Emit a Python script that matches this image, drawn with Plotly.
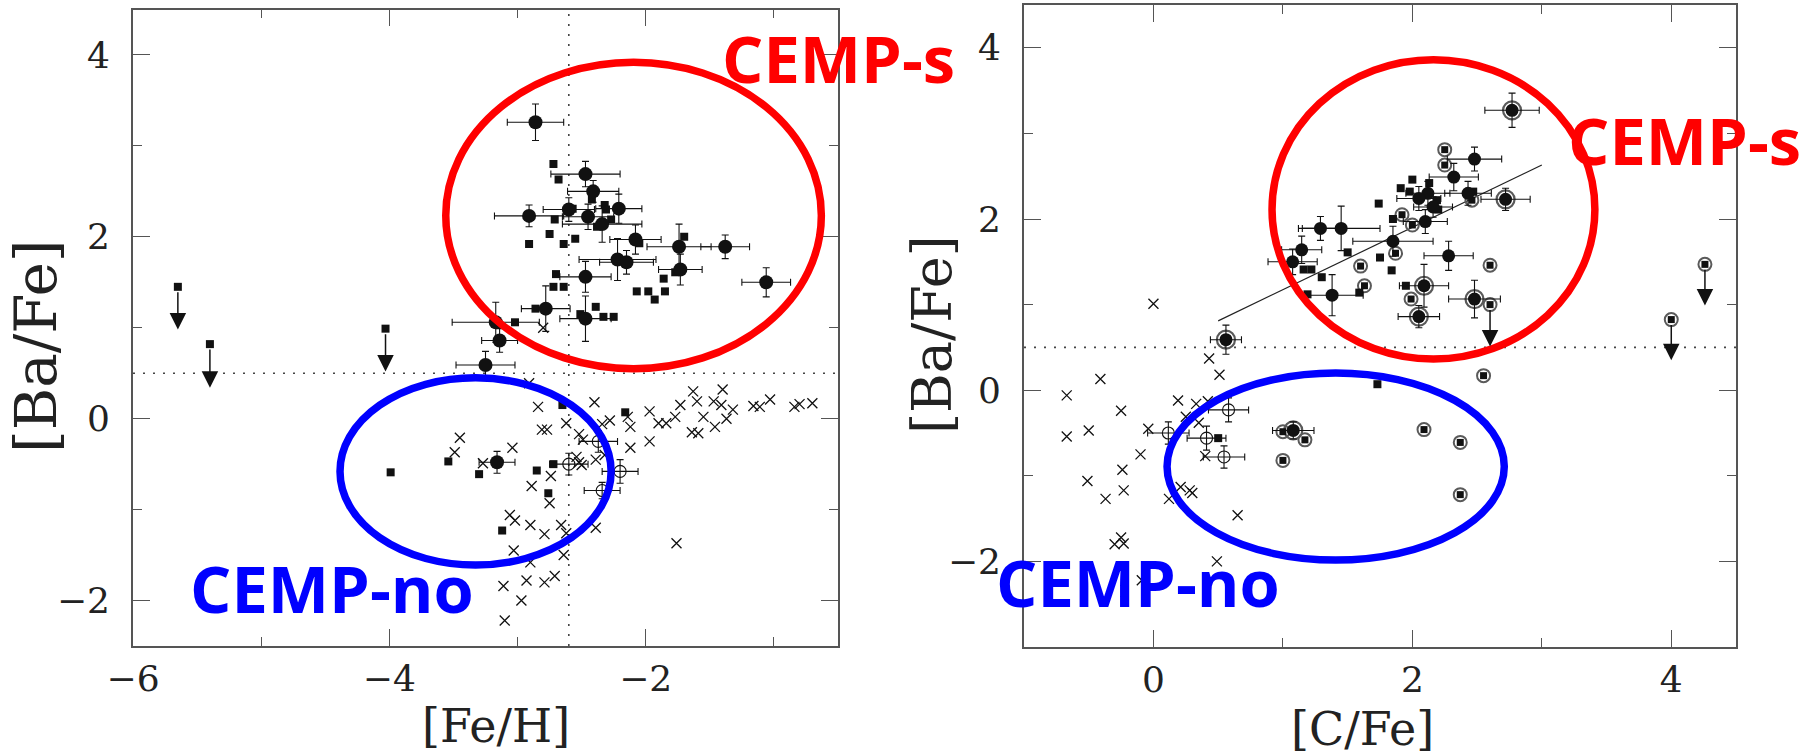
import plotly.graph_objects as go

# ---------------- LEFT PANEL : [Ba/Fe] vs [Fe/H] ----------------
L_circ_x = [-2.86, -2.47, -2.41, -2.91, -2.60, -2.45, -2.21, -2.34, -2.08, -1.74, -1.38,
            -2.22, -2.15, -1.73, -1.06, -2.47, -2.78, -2.47, -3.17, -3.14, -3.25, -3.16]
L_circ_y = [3.26, 2.69, 2.50, 2.23, 2.30, 2.22, 2.31, 2.14, 1.97, 1.89, 1.89,
            1.75, 1.72, 1.64, 1.50, 1.56, 1.21, 1.10, 1.06, 0.86, 0.59, -0.48]
L_circ_xerr = [0.22, 0.27, 0.20, 0.27, 0.20, 0.20, 0.18, 0.31, 0.20, 0.25, 0.19,
               0.30, 0.21, 0.17, 0.19, 0.20, 0.19, 0.20, 0.34, 0.14, 0.23, 0.14]
L_circ_yerr = [0.20, 0.14, 0.12, 0.12, 0.13, 0.14, 0.16, 0.20, 0.16, 0.25, 0.13,
               0.23, 0.13, 0.17, 0.16, 0.17, 0.25, 0.25, 0.22, 0.13, 0.15, 0.12]

L_sq_x = [-2.72, -2.68, -2.42, -2.32, -2.31, -2.27, -2.71, -2.75, -2.91, -2.64, -2.55,
          -2.38, -2.57, -1.70, -2.05, -2.70, -2.72, -2.64, -1.86, -1.77, -2.07, -1.98,
          -1.85, -1.93, -2.86, -2.39, -2.51, -2.33, -2.25, -3.02,
          -3.99, -3.54, -3.30, -2.85, -2.72, -2.76, -3.12, -2.65, -2.16]
L_sq_y = [2.80, 2.63, 2.41, 2.35, 2.30, 2.19, 2.19, 2.03, 1.92, 1.92, 1.98,
          2.11, 2.31, 2.00, 1.93, 1.59, 1.45, 1.45, 1.54, 1.61, 1.40, 1.40,
          1.40, 1.31, 1.21, 1.23, 1.15, 1.12, 1.12, 1.06,
          -0.59, -0.47, -0.61, -0.57, -0.50, -0.82, -1.23, 0.15, 0.07]

L_open_x = [-2.60, -2.37, -2.20, -2.34]
L_open_y = [-0.50, -0.25, -0.58, -0.79]
L_open_xerr = [0.15, 0.15, 0.14, 0.14]
L_open_yerr = [0.12, 0.12, 0.13, 0.09]

L_cross_x = [-3.45, -3.49, -3.27, -3.04, -2.84, -2.91, -2.81, -2.77, -2.62, -2.40,
             -2.52, -2.49, -2.54, -2.50, -2.39, -2.74, -2.89, -2.75, -2.34, -2.14,
             -2.12, -2.12, -1.97, -1.97, -1.90, -1.84, -1.77, -1.73, -1.63, -1.60,
             -1.64, -1.59, -1.55, -1.47, -1.46, -1.40, -1.41, -1.32, -1.37, -1.16,
             -1.11, -1.03, -0.84, -3.06, -3.02, -2.90, -2.79, -2.66, -2.62, -2.39,
             -3.03, -2.64, -2.90, -2.93, -2.79, -2.71, -3.11, -2.97, -3.10, -1.76,
             -0.80, -0.70, -2.80, -2.28, -2.52, -2.32]
L_cross_y = [-0.21, -0.37, -0.49, -0.32, 0.13, 0.39, -0.12, -0.12, -0.05, 0.18,
             -0.17, -0.23, -0.42, -0.51, -0.45, -0.63, -0.74, -0.93, -0.06, 0.02,
             -0.09, -0.32, 0.08, -0.25, -0.05, -0.05, 0.02, 0.15, 0.30, 0.19,
             -0.15, -0.16, 0.02, 0.19, -0.09, 0.32, 0.15, 0.10, 0.00, 0.14,
             0.13, 0.21, 0.13, -1.06, -1.12, -1.17, -1.27, -1.17, -1.26, -1.20,
             -1.45, -1.50, -1.58, -1.78, -1.80, -1.73, -1.84, -2.00, -2.22, -1.37,
             0.16, 0.17, 1.00, -0.02, -0.48, -0.40]

L_lim_x = [-5.65, -5.40, -4.03]
L_lim_y = [1.45, 0.82, 0.99]
L_lim_tip = [0.98, 0.34, 0.52]

L_vline = -2.6
H_LINE = 0.5

# ---------------- RIGHT PANEL : [Ba/Fe] vs [C/Fe] ----------------
R_circ_x = [2.77, 2.48, 2.32, 2.43, 2.72, 2.12, 2.05, 2.16, 2.10, 1.85, 1.29,
            1.45, 1.145, 1.075, 1.38, 2.28, 2.09, 2.48, 2.05, 0.56, 1.08]
R_circ_y = [3.27, 2.70, 2.49, 2.30, 2.23, 2.30, 2.24, 2.14, 1.97, 1.74, 1.89,
            1.89, 1.64, 1.50, 1.11, 1.57, 1.22, 1.065, 0.86, 0.59, -0.47]
R_circ_xerr = [0.21, 0.21, 0.19, 0.18, 0.19, 0.17, 0.17, 0.15, 0.17, 0.31, 0.17,
               0.30, 0.155, 0.19, 0.24, 0.19, 0.19, 0.20, 0.16, 0.12, 0.16]
R_circ_yerr = [0.20, 0.14, 0.16, 0.14, 0.13, 0.14, 0.14, 0.12, 0.14, 0.175, 0.14,
               0.26, 0.16, 0.15, 0.24, 0.17, 0.25, 0.22, 0.13, 0.17, 0.10]
R_circ_ring = [1, 0, 0, 0, 1, 0, 0, 0, 0, 0, 0,
               0, 0, 0, 0, 0, 1, 1, 1, 1, 1]

R_sq_x = [2.00, 1.91, 1.98, 2.13, 2.19, 2.20, 2.47, 1.74, 1.85, 1.50, 1.75,
          1.84, 1.16, 1.22, 1.30, 1.19, 1.59, 1.95, 1.73, 0.50]
R_sq_y = [2.46, 2.36, 2.32, 2.42, 2.22, 2.11, 2.32, 2.18, 2.00, 1.61, 1.55,
          1.40, 1.41, 1.41, 1.32, 1.12, 1.14, 1.22, 0.07, -0.56]

R_rsq_x = [2.25, 2.25, 1.92, 2.00, 1.60, 1.63, 1.99, 2.60, 2.55, 1.87, 2.46,
           1.00, 1.17, 1.00, 2.09, 2.37, 2.37]
R_rsq_y = [2.81, 2.63, 2.05, 1.93, 1.45, 1.22, 1.065, 1.46, 0.17, 1.60, 2.22,
           -0.485, -0.58, -0.82, -0.46, -0.61, -1.22]

R_open_x = [0.115, 0.41, 0.58, 0.545]
R_open_y = [-0.50, -0.56, -0.23, -0.78]
R_open_xerr = [0.16, 0.15, 0.155, 0.16]
R_open_yerr = [0.13, 0.14, 0.14, 0.13]

R_cross_x = [0.00, 0.43, 0.51, -0.41, -0.67, -0.25, -0.50, -0.67, -0.04, 0.19,
             0.33, 0.25, 0.35, 0.42, -0.10, -0.24, -0.51, -0.23, -0.37, 0.12,
             0.21, 0.28, 0.30, 0.40, 0.65, -0.30, -0.23, -0.25, 0.49, -0.09]
R_cross_y = [1.01, 0.37, 0.18, 0.13, -0.06, -0.24, -0.47, -0.54, -0.45, -0.12,
             -0.16, -0.31, -0.38, -0.13, -0.75, -0.93, -1.06, -1.17, -1.27, -1.27,
             -1.13, -1.17, -1.20, -0.77, -1.46, -1.80, -1.79, -1.72, -2.00, -2.22]

R_lim_x = [2.60, 4.00, 4.26]
R_lim_y = [1.00, 0.825, 1.47]
R_lim_tip = [0.51, 0.35, 0.99]

R_fit_x = [0.5, 3.0]
R_fit_y = [0.81, 2.63]

# ellipses (x0, x1, y0, y1) in data units
L_red_ell = (-3.56, -0.63, 0.55, 3.92)
L_blue_ell = (-4.385, -2.27, -1.61, 0.45)
R_red_ell = (0.916, 3.41, 0.364, 3.86)
R_blue_ell = (0.105, 2.71, -1.985, 0.201)

# ---------------- FIGURE ----------------
W, H = 1816, 755
fig = go.Figure()
BLACK = "#111111"
RING = "#5a5a5a"


def errs(arr):
    return dict(type="data", array=arr, visible=True, color=BLACK, thickness=1.1, width=3.5)


def add_panel(xa, ya, cx, cy, sx, sy, ox, oy, oxe, oye, ccx, ccy, cxe, cye, csize):
    fig.add_trace(go.Scatter(x=cx, y=cy, mode="markers", xaxis=xa, yaxis=ya,
                             marker=dict(symbol="x-thin", size=10, color=BLACK,
                                         line=dict(width=1.3, color=BLACK)),
                             showlegend=False, hoverinfo="skip"))
    fig.add_trace(go.Scatter(x=ox, y=oy, mode="markers", xaxis=xa, yaxis=ya,
                             error_x=errs(oxe), error_y=errs(oye),
                             marker=dict(symbol="circle-open", size=12, color=BLACK,
                                         line=dict(width=1.1, color=BLACK)),
                             showlegend=False, hoverinfo="skip"))
    fig.add_trace(go.Scatter(x=sx, y=sy, mode="markers", xaxis=xa, yaxis=ya,
                             marker=dict(symbol="square", size=8, color=BLACK),
                             showlegend=False, hoverinfo="skip"))
    fig.add_trace(go.Scatter(x=ccx, y=ccy, mode="markers", xaxis=xa, yaxis=ya,
                             error_x=errs(cxe), error_y=errs(cye),
                             marker=dict(symbol="circle", size=csize, color=BLACK),
                             showlegend=False, hoverinfo="skip"))


# left
add_panel("x", "y", L_cross_x, L_cross_y, L_sq_x, L_sq_y, L_open_x, L_open_y, L_open_xerr, L_open_yerr,
          L_circ_x, L_circ_y, L_circ_xerr, L_circ_yerr, 14)
fig.add_trace(go.Scatter(x=L_lim_x, y=L_lim_y, mode="markers", xaxis="x", yaxis="y",
                         marker=dict(symbol="square", size=8, color=BLACK), showlegend=False, hoverinfo="skip"))

# right
fig.add_trace(go.Scatter(x=R_fit_x, y=R_fit_y, mode="lines", xaxis="x2", yaxis="y2",
                         line=dict(color="#222", width=1.2), showlegend=False, hoverinfo="skip"))
ring_x = [x for x, r in zip(R_circ_x, R_circ_ring) if r]
ring_y = [y for y, r in zip(R_circ_y, R_circ_ring) if r]
fig.add_trace(go.Scatter(x=ring_x, y=ring_y, mode="markers", xaxis="x2", yaxis="y2",
                         marker=dict(symbol="circle-open", size=18, color=RING, line=dict(width=2.2)),
                         showlegend=False, hoverinfo="skip"))
fig.add_trace(go.Scatter(x=R_rsq_x + R_lim_x, y=R_rsq_y + R_lim_y, mode="markers", xaxis="x2", yaxis="y2",
                         marker=dict(symbol="circle-open", size=13, color=RING, line=dict(width=2.0)),
                         showlegend=False, hoverinfo="skip"))
fig.add_trace(go.Scatter(x=R_rsq_x + R_lim_x, y=R_rsq_y + R_lim_y, mode="markers", xaxis="x2", yaxis="y2",
                         marker=dict(symbol="square", size=7, color=BLACK), showlegend=False, hoverinfo="skip"))
add_panel("x2", "y2", R_cross_x, R_cross_y, R_sq_x, R_sq_y, R_open_x, R_open_y, R_open_xerr, R_open_yerr,
          R_circ_x, R_circ_y, R_circ_xerr, R_circ_yerr, 13)

# upper-limit arrows
annotations = []
for xs, ys, ts, xr, yr in [(L_lim_x, L_lim_y, L_lim_tip, "x", "y"), (R_lim_x, R_lim_y, R_lim_tip, "x2", "y2")]:
    for x, y, t in zip(xs, ys, ts):
        annotations.append(dict(x=x, y=t, ax=x, ay=y, xref=xr, yref=yr, axref=xr, ayref=yr,
                                text="", showarrow=True, arrowhead=2, arrowsize=2.2,
                                arrowwidth=1.5, arrowcolor=BLACK, standoff=0, startstandoff=4))

# shapes: dotted reference lines and ellipses
shapes = [
    dict(type="line", xref="x domain", yref="y", x0=0, x1=1, y0=H_LINE, y1=H_LINE,
         line=dict(color="#444", width=1.6, dash="2px,8px"), layer="below"),
    dict(type="line", xref="x", yref="y domain", x0=L_vline, x1=L_vline, y0=0, y1=1,
         line=dict(color="#444", width=1.6, dash="2px,8px"), layer="below"),
    dict(type="line", xref="x2 domain", yref="y2", x0=0, x1=1, y0=H_LINE, y1=H_LINE,
         line=dict(color="#444", width=1.6, dash="2px,8px"), layer="below"),
]
for (x0, x1, y0, y1), xr, yr, col in [(L_red_ell, "x", "y", "#ff0000"), (L_blue_ell, "x", "y", "#0000ff"),
                                      (R_red_ell, "x2", "y2", "#ff0000"), (R_blue_ell, "x2", "y2", "#0000ff")]:
    shapes.append(dict(type="circle", xref=xr, yref=yr, x0=x0, x1=x1, y0=y0, y1=y1,
                       line=dict(color=col, width=7.5)))

# text labels
SERIF = "DejaVu Serif"
def ptext(px, py, txt, size, color, family, angle=0):
    return dict(x=px / W, y=1 - py / H, xref="paper", yref="paper", text=txt, showarrow=False,
                xanchor="center", yanchor="middle", textangle=angle,
                font=dict(family=family, size=size, color=color))

annotations += [
    ptext(496, 726, "[Fe/H]", 46, "#222", SERIF),
    ptext(1362, 729, "[C/Fe]", 46, "#222", SERIF),
    ptext(36, 347, "[Ba/Fe]", 58, "#222", SERIF, -90),
    ptext(932, 335, "[Ba/Fe]", 54, "#222", SERIF, -90),
    ptext(838, 58, "<b>CEMP-s</b>", 65, "#ff0000", "Open Sans"),
    ptext(1684, 140, "<b>CEMP-s</b>", 65, "#ff0000", "Open Sans"),
    ptext(332, 588, "<b>CEMP-no</b>", 65, "#0000ff", "Open Sans"),
    ptext(1138, 582, "<b>CEMP-no</b>", 65, "#0000ff", "Open Sans"),
]

axis_common = dict(showline=True, linecolor="#555", linewidth=1.6, mirror="ticks", ticks="inside",
                   ticklen=17, tickwidth=1.4, tickcolor="#555", showgrid=False, zeroline=False,
                   automargin=False,
                   tickfont=dict(family=SERIF, size=36, color="#222"),
                   minor=dict(ticks="inside", ticklen=9, tickwidth=1.4, tickcolor="#555", dtick=1, showgrid=False))

fig.update_layout(
    width=W, height=H, margin=dict(l=0, r=0, t=0, b=0, autoexpand=False),
    paper_bgcolor="white", plot_bgcolor="white", showlegend=False,
    xaxis=dict(axis_common, domain=[133 / W, 838 / W], range=[-6, -0.5], dtick=2, tick0=0,
               anchor="y", ticklabelstandoff=0),
    yaxis=dict(axis_common, domain=[1 - 646 / H, 1 - 9.5 / H], range=[-2.5, 4.5], dtick=2, tick0=0,
               anchor="x", ticklabelstandoff=14),
    xaxis2=dict(axis_common, domain=[1024 / W, 1736 / W], range=[-1, 4.5], dtick=2, tick0=0,
                anchor="y2", ticklabelstandoff=0),
    yaxis2=dict(axis_common, domain=[1 - 647 / H, 1 - 5 / H], range=[-3, 4.5], dtick=2, tick0=0,
                anchor="x2", ticklabelstandoff=14),
    shapes=shapes, annotations=annotations,
)

fig.write_html("out.html")
